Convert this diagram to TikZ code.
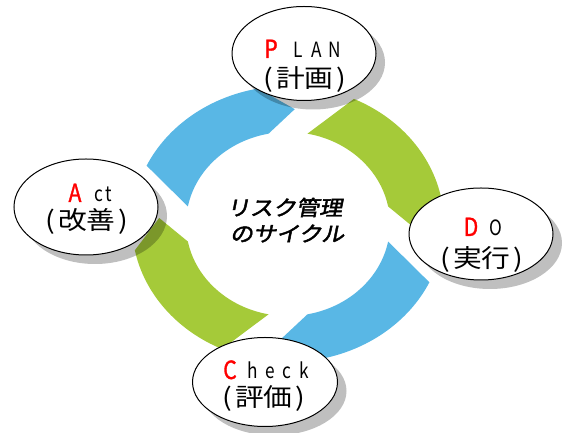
\documentclass[tikz,border=0pt]{standalone}
\usepackage{fontspec}
\usetikzlibrary{shapes.geometric,shadows}
\newfontfamily\jp[FakeStretch=0.82]{Noto Sans CJK JP}
\newfontfamily\jpred[FakeStretch=0.85,FakeBold=1.2]{Noto Sans CJK JP}
\newfontfamily\jpw[FakeStretch=1.15]{Noto Sans CJK JP}
\newfontfamily\jpbi[FakeSlant=0.2,FakeBold=2.2,FakeStretch=1.1]{Noto Sans CJK JP}
\definecolor{ringblue}{RGB}{89,183,229}
\definecolor{ringgreen}{RGB}{165,202,57}
\newcommand\zb[1]{\makebox[0pt]{#1}}
\newcommand\firstl[1]{\makebox[0pt]{\color{red}\jpred\fontsize{25}{25}\selectfont #1}}
\tikzset{
  stage/.style={ellipse, draw=black, line width=1pt, fill=white, inner sep=0pt,
    drop shadow={shadow xshift=9pt, shadow yshift=-9pt, opacity=0.25, fill=black}},
  latin/.style={anchor=base, inner sep=0pt, font=\jp\fontsize{21}{21}\selectfont},
  kanji/.style={anchor=base, inner sep=0pt, font=\jpw\fontsize{25}{25}\selectfont},
  centre/.style={anchor=base, inner sep=0pt, font=\jpbi\fontsize{21}{21}\selectfont}
}
\begin{document}
\begin{tikzpicture}[x=1pt,y=1pt]
\useasboundingbox (0,0) rectangle (565,433);
% ring of four curved arrows
\foreach \o/\c in {0/ringblue,-90/ringgreen,-180/ringblue,-270/ringgreen}{
  \fill[\c] ({288+102*cos(169+\o)},{209+92*sin(169+\o)})
    -- ({288+156*cos(155+\o)},{209+138*sin(155+\o)})
    arc[start angle={155+\o}, end angle={101+\o}, x radius=156pt, y radius=138pt]
    -- ({288+129*cos(87+\o)},{209+115*sin(87+\o)})
    -- ({288+102*cos(101+\o)},{209+92*sin(101+\o)})
    arc[start angle={101+\o}, end angle={169+\o}, x radius=102pt, y radius=92pt]
    -- cycle;
}
% stage ellipses
\node[stage, minimum width=144pt, minimum height=94pt] (plan) at (304,379.5) {};
\node[stage, minimum width=144pt, minimum height=92pt] (do) at (481,199) {};
\node[stage, minimum width=145pt, minimum height=89pt] (check) at (265,51) {};
\node[stage, minimum width=144pt, minimum height=96pt] (act) at (86,226) {};
% labels
\node[latin] (planA) at (303,375) {\firstl{P}\hspace{27pt}\zb{L}\hspace{19pt}\zb{A}\hspace{18pt}\zb{N}};
\node[kanji] (planB) at (305,345) {(\kern3pt計画\kern3pt)};
\node[latin] (doA) at (483.5,197) {\firstl{D}\hspace{25pt}\zb{O}};
\node[kanji] (doB) at (482,165) {(\kern3pt実行\kern3pt)};
\node[latin] (checkA) at (267,54) {\firstl{C}\hspace{23pt}\zb{h}\hspace{17pt}\zb{e}\hspace{17pt}\zb{c}\hspace{17pt}\zb{k}};
\node[kanji] (checkB) at (264,26) {(\kern3pt評価\kern3pt)};
\node[latin] (actA) at (92,231) {\firstl{A}\hspace{24pt}\zb{c}\hspace{10pt}\zb{t}};
\node[kanji] (actB) at (87,203) {(\kern3pt改善\kern3pt)};
% centre title
\node[centre] (title1) at (284.5,217.5) {リスク管理};
\node[centre] (title2) at (287,191.5) {のサイクル};
\end{tikzpicture}
\end{document}
